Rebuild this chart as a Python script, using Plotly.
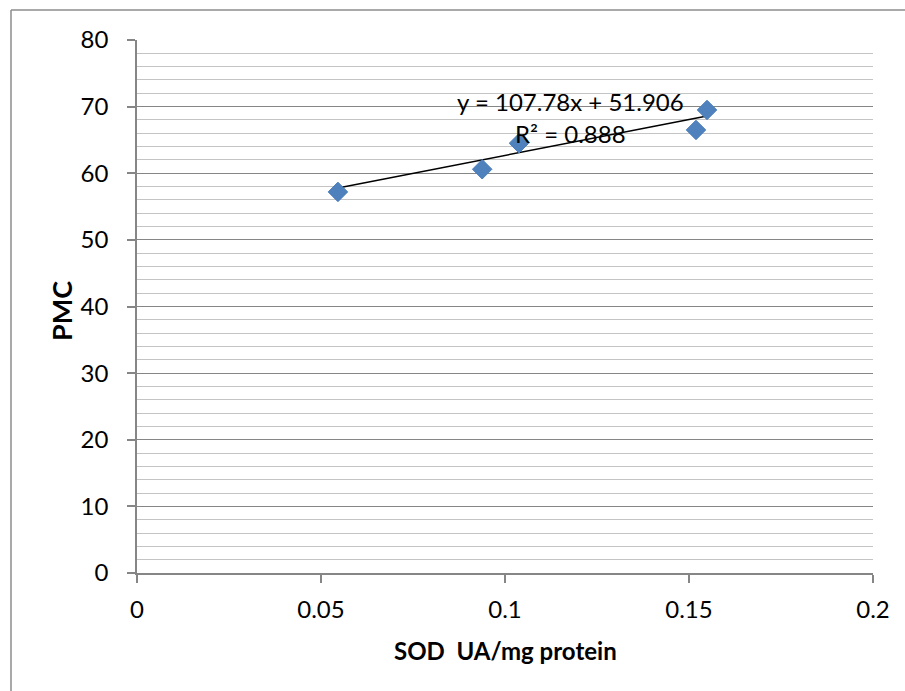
import plotly.graph_objects as go

sod = [0.0546, 0.0938, 0.1038, 0.1519, 0.1549]
pmc = [57.2, 60.6, 64.5, 66.5, 69.5]
slope = 107.78
intercept = 51.906
r2 = 0.888
x_ticks = [0, 0.05, 0.1, 0.15, 0.2]
x_tick_labels = ["0", "0.05", "0.1", "0.15", "0.2"]
y_ticks = [0, 10, 20, 30, 40, 50, 60, 70, 80]
x_title = "SOD\u00a0\u00a0UA/mg protein"
y_title = "PMC"

FONT = "Lato, Calibri, 'Liberation Sans', sans-serif"

x_line = [min(sod), max(sod)]
y_line = [slope * v + intercept for v in x_line]

fig = go.Figure()
fig.add_trace(go.Scatter(
    x=x_line, y=y_line, mode="lines",
    line=dict(color="black", width=1.5), showlegend=False, hoverinfo="skip"))
fig.add_trace(go.Scatter(
    x=sod, y=pmc, mode="markers",
    marker=dict(symbol="diamond", size=15, color="#4F81BD",
                line=dict(color="#4A7EBB", width=1)),
    showlegend=False))

fig.add_annotation(x=0.1179, y=70.7, text=f"y = {slope}x + {intercept}",
                   showarrow=False, font=dict(family=FONT, size=24, color="black"))
fig.add_annotation(x=0.1179, y=66.0, text=f"R² = {r2}",
                   showarrow=False, font=dict(family=FONT, size=24, color="black"))

# axis titles
fig.add_annotation(xref="paper", yref="paper", x=0.5, y=-0.1445, text=f"<b>{x_title}</b>",
                   showarrow=False, xanchor="center", yanchor="middle",
                   font=dict(family=FONT, size=24, color="black"))
fig.add_annotation(xref="paper", yref="paper", x=-0.1019, y=0.4916, text=f"<b>{y_title}</b>",
                   showarrow=False, xanchor="center", yanchor="middle", textangle=-90,
                   font=dict(family=FONT, size=27, color="black"))

# outer chart border (left and top)
fig.add_shape(type="line", xref="paper", yref="paper",
              x0=-0.1712, x1=-0.1712, y0=1.0563, y1=-0.23,
              line=dict(color="#8c8c8c", width=1.5))
fig.add_shape(type="line", xref="paper", yref="paper",
              x0=-0.1712, x1=1.05, y0=1.0563, y1=1.0563,
              line=dict(color="#8c8c8c", width=1.5))

fig.update_layout(
    width=905, height=691,
    margin=dict(l=137, r=32, t=40, b=118),
    paper_bgcolor="white", plot_bgcolor="white",
    font=dict(family=FONT, size=24, color="black"),
    xaxis=dict(range=[0, 0.2], tickvals=x_ticks, ticktext=x_tick_labels,
               showgrid=False, zeroline=False, showline=True,
               linecolor="#868686", linewidth=1.5,
               ticks="outside", ticklen=8, tickcolor="#868686", tickwidth=1.5,
               ticklabelstandoff=6,
               tickfont=dict(family=FONT, size=24, color="black")),
    yaxis=dict(range=[0, 80], tickvals=y_ticks,
               showgrid=True, gridcolor="#868686", gridwidth=1.2,
               zeroline=False, showline=True,
               linecolor="#868686", linewidth=1.5,
               ticks="outside", ticklen=8, tickcolor="#868686", tickwidth=1.5,
               ticklabelstandoff=14,
               tickfont=dict(family=FONT, size=24, color="black"),
               minor=dict(dtick=2, showgrid=True, gridcolor="#c4c4c4",
                          gridwidth=1, ticks="")),
)

fig.write_html("out.html")
